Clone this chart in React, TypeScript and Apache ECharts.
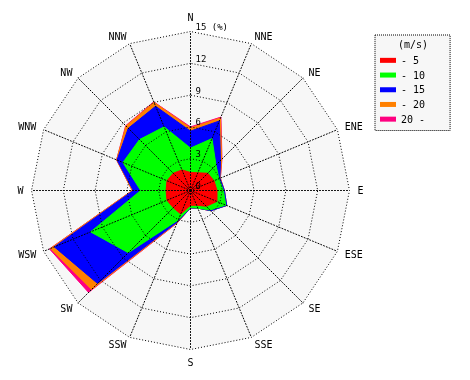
import React, { useEffect, useRef } from 'react';
import * as echarts from 'echarts';

const directions = ['N', 'NNE', 'NE', 'ENE', 'E', 'ESE', 'SE', 'SSE', 'S', 'SSW', 'SW', 'WSW', 'W', 'WNW', 'NW', 'NNW'];
const speedClasses = ['- 5', '- 10', '- 15', '- 20', '20 -'];
const classColors = ['#ff0000', '#00ff00', '#0000ff', '#ff8000', '#ff0080'];
// frequency (%) per speed class, per direction (N clockwise)
const freqTo5 = [1.7, 1.8, 2.3, 2.4, 2.5, 2.7, 2.1, 1.5, 1.4, 2.4, 2.3, 2.4, 2.3, 2.4, 2.3, 2.1];
const freqTo10 = [2.3, 3.5, 1.1, 0.5, 0.6, 0.9, 0.5, 0.3, 0.2, 0.6, 6.0, 7.8, 2.4, 4.5, 4.5, 4.4];
const freqTo15 = [1.6, 1.8, 0.6, 0.1, 0.1, 0.1, 0.1, 0.0, 0.05, 0.2, 4.1, 3.7, 0.7, 0.6, 1.5, 2.1];
const freqTo20 = [0.3, 0.3, 0.15, 0.05, 0, 0, 0, 0, 0, 0.1, 0.8, 0.4, 0.1, 0.05, 0.3, 0.4];
const freqOver20 = [0.1, 0.1, 0.05, 0, 0, 0, 0, 0, 0, 0.05, 0.4, 0.1, 0, 0, 0.05, 0.05];
const radialMax = 15;
const radialSplits = 5;

const FONT = 'DejaVu Sans Mono';

export default function App() {
  const ref = useRef<HTMLDivElement>(null);
  useEffect(() => {
    if (!ref.current) return;
    const chart = echarts.init(ref.current, undefined, { renderer: 'svg' });
    const classes = [freqTo5, freqTo10, freqTo15, freqTo20, freqOver20];
    const cum: number[][] = [];
    classes.forEach((arr, k) => {
      cum.push(arr.map((v, i) => (k === 0 ? v : cum[k - 1][i] + v)));
    });
    // ECharts radar runs counter-clockwise; reorder so directions go clockwise
    const order = [0, ...directions.map((_, i) => i).slice(1).reverse()];
    const makeIndicator = (withLabel: boolean) =>
      order.map((i) => {
        const ind: any = { name: directions[i], min: 0, max: radialMax };
        if (withLabel && i === 0) {
          ind.axisLabel = {
            show: true,
            color: '#000',
            fontFamily: FONT,
            fontSize: 9,
            margin: -5,
            align: 'left',
            verticalAlign: 'bottom',
            formatter: (v: number) => (v === radialMax ? v + ' (%)' : String(v)),
          };
        }
        return ind;
      });
    const dotted = { color: '#000', type: [1, 2] as any, width: 1 };
    const data = [4, 3, 2, 1, 0].map((k) => ({
      name: speedClasses[k],
      value: order.map((i) => +cum[k][i].toFixed(3)),
      symbol: 'none',
      itemStyle: { color: classColors[k] },
      lineStyle: { color: classColors[k], width: 1 },
      areaStyle: { color: classColors[k], opacity: 1 },
    }));
    const center = [190.5, 190.5];
    chart.setOption({
      animation: false,
      title: {
        text: '(m/s)',
        left: 413,
        top: 39,
        textAlign: 'center',
        textStyle: { fontFamily: FONT, fontSize: 10, fontWeight: 'normal', color: '#000' },
        padding: 0,
      },
      legend: {
        orient: 'vertical',
        left: 375,
        top: 35,
        data: speedClasses.map((n) => ({ name: n, icon: 'rect' })),
        itemWidth: 16,
        itemHeight: 5,
        itemGap: 0,
        padding: [18, 25, 4, 5],
        borderColor: '#000',
        borderWidth: 1,
        borderType: 'dotted',
        backgroundColor: '#f7f7f7',
        borderRadius: 0,
        selectedMode: false,
        textStyle: { fontFamily: FONT, fontSize: 10, color: '#000', lineHeight: 14.7 },
      },
      radar: [
        {
          center,
          radius: 159,
          startAngle: 90,
          shape: 'polygon',
          splitNumber: radialSplits,
          indicator: makeIndicator(false),
          axisName: { show: false },
          axisLabel: { show: false },
          axisLine: { show: false },
          splitLine: { show: false },
          splitArea: { show: true, areaStyle: { color: ['#f7f7f7'] } },
          axisTick: { show: false },
          z: 0,
        },
        {
          center,
          radius: 159,
          startAngle: 90,
          shape: 'polygon',
          splitNumber: radialSplits,
          indicator: makeIndicator(true),
          nameGap: 8,
          axisName: { color: '#000', fontFamily: FONT, fontSize: 10 },
          axisLabel: { show: false },
          axisLine: { show: true, lineStyle: dotted },
          splitLine: { show: true, lineStyle: dotted },
          splitArea: { show: false },
          axisTick: { show: false },
          z: 5,
        },
      ],
      series: [
        {
          type: 'radar',
          radarIndex: 0,
          symbol: 'none',
          data,
          z: 2,
        },
      ],
    });
    return () => chart.dispose();
  }, []);
  return <div ref={ref} style={{ position: 'fixed', left: 0, top: 0, width: 470, height: 380 }} />;
}
